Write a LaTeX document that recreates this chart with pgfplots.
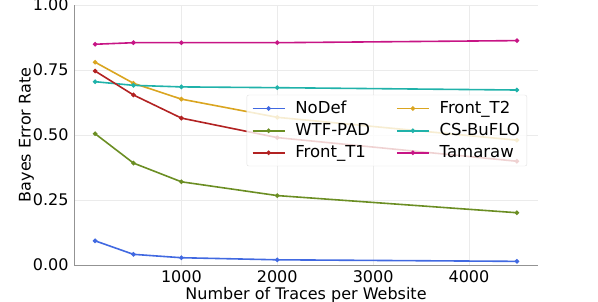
\documentclass[border=0pt]{standalone}
\usepackage{pgfplots}
\pgfplotsset{compat=1.18}
\usepackage{fontspec}
\setmainfont{DejaVu Sans}
\definecolor{cNoDef}{HTML}{4169E1}
\definecolor{cWTF}{HTML}{6B8E23}
\definecolor{cT1}{HTML}{B22222}
\definecolor{cT2}{HTML}{DAA520}
\definecolor{cCS}{HTML}{20B2AA}
\definecolor{cTam}{HTML}{C71585}
\begin{document}
\fontsize{16bp}{19bp}\selectfont
\begin{tikzpicture}
\useasboundingbox (-74bp,-37bp) rectangle ++(598bp,302bp);
\begin{axis}[
  scale only axis, width=464bp, height=260bp,
  xmin=-120, xmax=4720, ymin=0, ymax=1,
  xtick={1000,2000,3000,4000},
  ytick={0,0.25,0.5,0.75,1},
  yticklabel style={/pgf/number format/.cd, fixed, fixed zerofill, precision=2},
  /pgf/number format/assume math mode=true,
  scaled x ticks=false,
  xticklabel style={/pgf/number format/.cd, set thousands separator={}},
  axis x line*=bottom, axis y line*=left,
  axis line style={draw=gray!85, line width=0.8bp, -},
  major tick length=0pt,
  grid=major, grid style={draw=black!8, line width=0.8bp},
  tick label style={font=\fontsize{16bp}{19bp}\selectfont},
  label style={font=\fontsize{16bp}{19bp}\selectfont},
  xlabel={Number of Traces per Website},
  ylabel={Bayes Error Rate},
  xlabel style={inner ysep=1bp, yshift=2bp},
  ylabel style={yshift=-12bp},
  every axis plot/.append style={line width=1.6bp, mark=*, mark size=1.4bp},
  legend image code/.code={\draw[mark repeat=2,mark phase=2] plot coordinates {(0bp,0bp) (16bp,0bp) (32bp,0bp)};},
  legend columns=2,
  legend cell align=left,
  legend style={at={(0.372,0.38)}, anchor=south west, fill=white, fill opacity=0.8, text opacity=1, draw=black!12, rounded corners=2bp, font=\fontsize{16.5bp}{19.5bp}\selectfont, /tikz/every odd column/.append style={column sep=8bp}, /tikz/every even column/.append style={column sep=24bp}, inner xsep=5bp, inner ysep=4bp, row sep=3.5bp},
]
\addplot[color=cNoDef] coordinates {(100,0.093) (500,0.041) (1000,0.028) (2000,0.020) (4500,0.014)};
\addlegendentry{NoDef}
\addplot[color=cT2] coordinates {(100,0.780) (500,0.699) (1000,0.638) (2000,0.568) (4500,0.480)};
\addlegendentry{Front\_T2}
\addplot[color=cWTF] coordinates {(100,0.505) (500,0.392) (1000,0.320) (2000,0.267) (4500,0.201)};
\addlegendentry{WTF-PAD}
\addplot[color=cCS] coordinates {(100,0.705) (500,0.691) (1000,0.685) (2000,0.682) (4500,0.673)};
\addlegendentry{CS-BuFLO}
\addplot[color=cT1] coordinates {(100,0.746) (500,0.654) (1000,0.565) (2000,0.490) (4500,0.399)};
\addlegendentry{Front\_T1}
\addplot[color=cTam] coordinates {(100,0.849) (500,0.855) (1000,0.855) (2000,0.855) (4500,0.863)};
\addlegendentry{Tamaraw}
\end{axis}
\end{tikzpicture}
\end{document}
